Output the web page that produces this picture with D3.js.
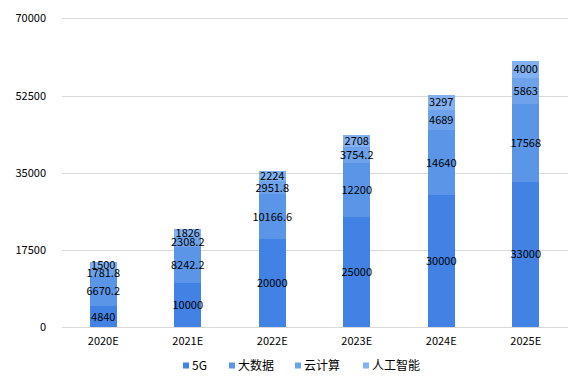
<!DOCTYPE html>
<html>
<head>
<meta charset="utf-8">
<script src="https://cdn.jsdelivr.net/npm/d3@7"></script>
<style>
  body { margin: 0; background: #fff; }
  text { font-family: "Noto Sans CJK SC", "Noto Sans", sans-serif; fill: #000; }
</style>
</head>
<body>
<div id="chart"></div>
<script>
const years = ['2020E', '2021E', '2022E', '2023E', '2024E', '2025E'];
const seriesNames = ['5G', '大数据', '云计算', '人工智能'];
const g5 = [4840, 10000, 20000, 25000, 30000, 33000];
const bigData = [6670.2, 8242.2, 10166.6, 12200, 14640, 17568];
const cloud = [1781.8, 2308.2, 2951.8, 3754.2, 4689, 5863];
const ai = [1500, 1826, 2224, 2708, 3297, 4000];
const yTicks = [0, 17500, 35000, 52500, 70000];
const colors = ['#4182e4', '#5b95e8', '#6ea3ec', '#82b0f0'];

const width = 585, height = 377;
const svg = d3.select('#chart').append('svg')
  .attr('width', width).attr('height', height);

const x = d3.scaleBand().domain(years).range([61, 568]).paddingInner(0.68).paddingOuter(0.34);
const y = d3.scaleLinear().domain([0, 70000]).range([327.3, 18.3]);

// gridlines
svg.append('g').selectAll('line')
  .data(yTicks).join('line')
  .attr('x1', 62).attr('x2', 568)
  .attr('y1', d => Math.round(y(d)) + 0.5).attr('y2', d => Math.round(y(d)) + 0.5)
  .attr('stroke', '#d9d9d9').attr('stroke-width', 1);

svg.append('g').selectAll('text')
  .data(yTicks).join('text')
  .attr('x', 46).attr('y', d => y(d) + 4)
  .attr('text-anchor', 'end').attr('font-size', 11)
  .text(d => d);

const table = years.map((yr, i) => ({ year: yr, '5G': g5[i], '大数据': bigData[i], '云计算': cloud[i], '人工智能': ai[i] }));
const stack = d3.stack().keys(seriesNames)(table);

const layer = svg.append('g').selectAll('g')
  .data(stack).join('g')
  .attr('fill', (d, i) => colors[i])
  .attr('shape-rendering', 'crispEdges');

layer.selectAll('rect')
  .data(d => d).join('rect')
  .attr('x', d => x(d.data.year))
  .attr('width', x.bandwidth())
  .attr('y', d => y(d[1]))
  .attr('height', d => y(d[0]) - y(d[1]));

const labels = svg.append('g');
stack.forEach(s => {
  labels.selectAll(null)
    .data(s).join('text')
    .attr('x', d => x(d.data.year) + x.bandwidth() / 2)
    .attr('y', d => (y(d[0]) + y(d[1])) / 2 + 4)
    .attr('text-anchor', 'middle').attr('font-size', 11)
    .text(d => d.data[s.key]);
});

svg.append('g').selectAll('text')
  .data(years).join('text')
  .attr('x', d => x(d) + x.bandwidth() / 2).attr('y', 345)
  .attr('text-anchor', 'middle').attr('font-size', 11)
  .text(d => d);

// legend
const legendX = [183, 229, 295, 363];
const legend = svg.append('g');
seriesNames.forEach((n, i) => {
  legend.append('rect').attr('x', legendX[i]).attr('y', 362.5)
    .attr('width', 6).attr('height', 6).attr('fill', colors[i]);
  legend.append('text').attr('x', legendX[i] + 9).attr('y', 370)
    .attr('font-size', 12).text(n);
});
</script>
</body>
</html>
